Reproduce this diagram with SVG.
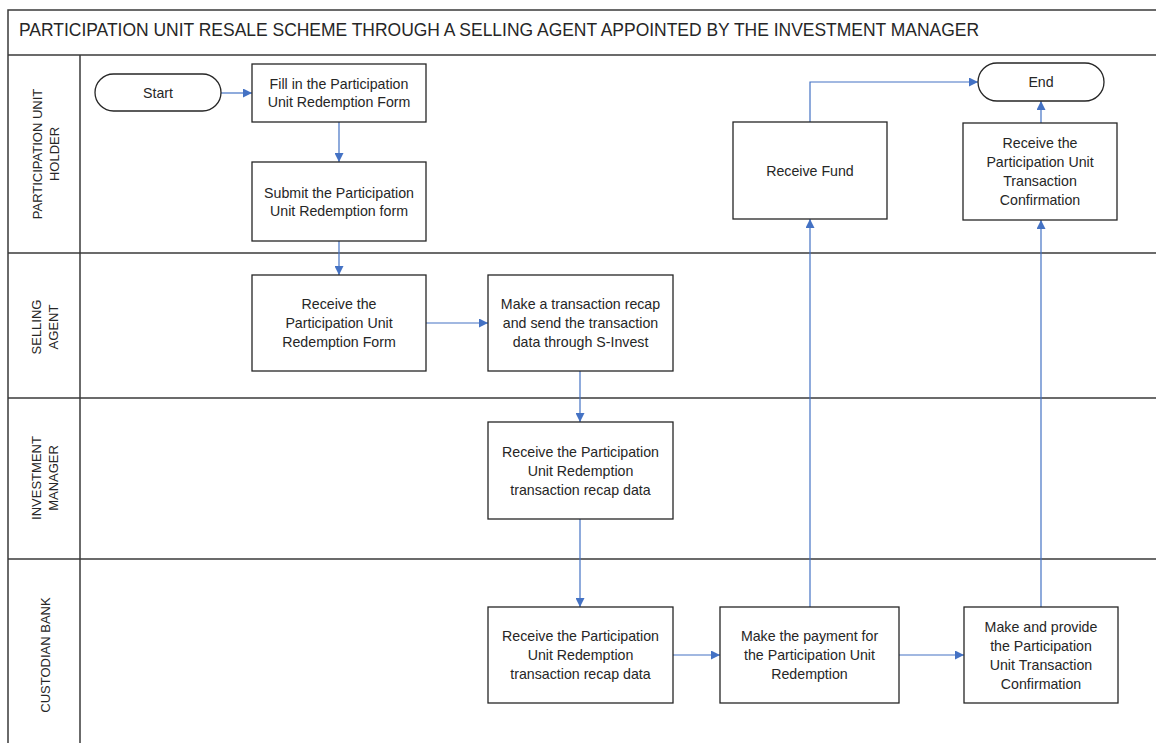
<svg xmlns="http://www.w3.org/2000/svg" width="1156" height="743" viewBox="0 0 1156 743">
<defs>
<marker id="arr" viewBox="0 0 10 10" refX="10" refY="5" markerWidth="9" markerHeight="9" markerUnits="userSpaceOnUse" orient="auto">
<path d="M0,0 L10,5 L0,10 z" fill="#4472C4"/>
</marker>
<style>
.frame{fill:none;stroke:#3a3a3a;stroke-width:1.5}
.box{fill:#fff;stroke:#262626;stroke-width:1.3}
.t{font-family:"Liberation Sans",Arial,sans-serif;font-size:14.2px;fill:#262626;text-anchor:middle}
.lane{font-family:"Liberation Sans",Arial,sans-serif;font-size:13px;fill:#262626;text-anchor:middle}
.title{font-family:"Liberation Sans",Arial,sans-serif;font-size:19px;fill:#262626}
.c{fill:none;stroke:#4472C4;stroke-width:1.2;marker-end:url(#arr)}
</style>
</defs>
<rect width="1156" height="743" fill="#fff"/>
<g id="pool">
<rect class="frame" x="8" y="10" width="1160" height="750"/>
<line class="frame" x1="8" y1="55" x2="1156" y2="55"/>
<line class="frame" x1="8" y1="253" x2="1156" y2="253"/>
<line class="frame" x1="8" y1="398" x2="1156" y2="398"/>
<line class="frame" x1="8" y1="559" x2="1156" y2="559"/>
<line class="frame" x1="80" y1="55" x2="80" y2="743"/>
<text class="title" x="19" y="36" textLength="960" lengthAdjust="spacingAndGlyphs">PARTICIPATION UNIT RESALE SCHEME THROUGH A SELLING AGENT APPOINTED BY THE INVESTMENT MANAGER</text>
</g>
<g id="lanes">
<text class="lane" transform="translate(46 154) rotate(-90)"><tspan x="0" y="-4">PARTICIPATION UNIT</tspan><tspan x="0" y="13">HOLDER</tspan></text>
<text class="lane" transform="translate(45 327) rotate(-90)"><tspan x="0" y="-4">SELLING</tspan><tspan x="0" y="13">AGENT</tspan></text>
<text class="lane" transform="translate(45 478) rotate(-90)"><tspan x="0" y="-4">INVESTMENT</tspan><tspan x="0" y="13">MANAGER</tspan></text>
<text class="lane" transform="translate(45 655) rotate(-90)"><tspan x="0" y="4.6">CUSTODIAN BANK</tspan></text>
</g>
<g id="connectors">
<path class="c" d="M221,93 H252"/>
<path class="c" d="M339,122 V162"/>
<path class="c" d="M339,241 V275"/>
<path class="c" d="M426,323 H488"/>
<path class="c" d="M580,371 V422"/>
<path class="c" d="M580,519 V607"/>
<path class="c" d="M673,655 H720"/>
<path class="c" d="M810,607 V219"/>
<path class="c" d="M810,122 V82 H978"/>
<path class="c" d="M899,655 H964"/>
<path class="c" d="M1041,607 V220"/>
<path class="c" d="M1041,123 V101"/>
</g>
<g id="start">
<rect class="box" x="95" y="74" width="126" height="37" rx="18.5"/>
<text class="t" x="158" y="98">Start</text>
</g>
<g id="fill-form">
<rect class="box" x="252" y="64" width="174" height="58"/>
<text class="t"><tspan x="339" y="89">Fill in the Participation</tspan><tspan x="339" y="107">Unit Redemption Form</tspan></text>
</g>
<g id="submit-form">
<rect class="box" x="252" y="162" width="174" height="79"/>
<text class="t"><tspan x="339" y="198">Submit the Participation</tspan><tspan x="339" y="216">Unit Redemption form</tspan></text>
</g>
<g id="sa-receive">
<rect class="box" x="252" y="275" width="174" height="96"/>
<text class="t"><tspan x="339" y="309">Receive the</tspan><tspan x="339" y="328">Participation Unit</tspan><tspan x="339" y="347">Redemption Form</tspan></text>
</g>
<g id="sa-recap">
<rect class="box" x="488" y="275" width="185" height="96"/>
<text class="t"><tspan x="580.5" y="309">Make a transaction recap</tspan><tspan x="580.5" y="328">and send the transaction</tspan><tspan x="580.5" y="347">data through S-Invest</tspan></text>
</g>
<g id="im-receive">
<rect class="box" x="488" y="422" width="185" height="97"/>
<text class="t"><tspan x="580.5" y="457">Receive the Participation</tspan><tspan x="580.5" y="476">Unit Redemption</tspan><tspan x="580.5" y="495">transaction recap data</tspan></text>
</g>
<g id="cb-receive">
<rect class="box" x="488" y="607" width="185" height="96"/>
<text class="t"><tspan x="580.5" y="641">Receive the Participation</tspan><tspan x="580.5" y="660">Unit Redemption</tspan><tspan x="580.5" y="679">transaction recap data</tspan></text>
</g>
<g id="cb-payment">
<rect class="box" x="720" y="607" width="179" height="96"/>
<text class="t"><tspan x="809.5" y="641">Make the payment for</tspan><tspan x="809.5" y="660">the Participation Unit</tspan><tspan x="809.5" y="679">Redemption</tspan></text>
</g>
<g id="cb-confirmation">
<rect class="box" x="964" y="607" width="154" height="96"/>
<text class="t"><tspan x="1041" y="632">Make and provide</tspan><tspan x="1041" y="651">the Participation</tspan><tspan x="1041" y="670">Unit Transaction</tspan><tspan x="1041" y="689">Confirmation</tspan></text>
</g>
<g id="receive-fund">
<rect class="box" x="733" y="122" width="154" height="97"/>
<text class="t" x="810" y="176">Receive Fund</text>
</g>
<g id="receive-confirmation">
<rect class="box" x="963" y="123" width="154" height="97"/>
<text class="t"><tspan x="1040" y="148">Receive the</tspan><tspan x="1040" y="167">Participation Unit</tspan><tspan x="1040" y="186">Transaction</tspan><tspan x="1040" y="205">Confirmation</tspan></text>
</g>
<g id="end">
<rect class="box" x="978" y="63" width="126" height="38" rx="19"/>
<text class="t" x="1041" y="87">End</text>
</g>
</svg>
